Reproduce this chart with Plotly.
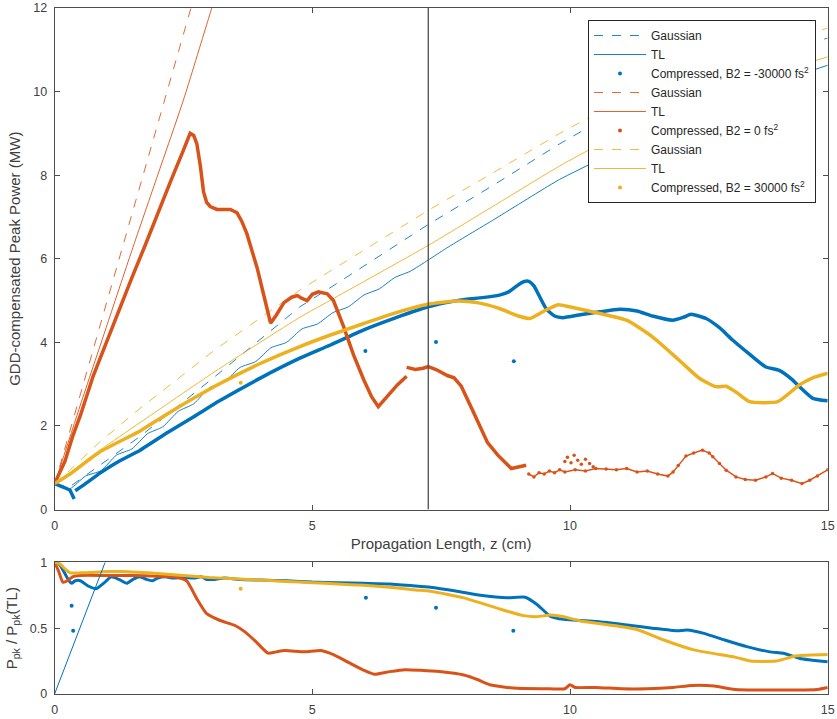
import plotly.graph_objects as go

BLUE = "#0072BD"
RED = "#D95319"
YEL = "#EDB120"

# ---------------- top panel data ----------------
# Gaussian (dashed) curves
blue_gauss_x = [0, 0.3, 0.88, 1.66, 3.11, 4.76, 5.34, 7.25, 8.5, 9.8, 10.58, 12.5, 15]
blue_gauss_y = [0.6, 0.55, 1.06, 1.75, 3.18, 4.85, 5.3, 6.82, 7.75, 8.75, 9.3, 10.4, 11.28]
red_gauss_x = [0, 0.5, 1.0, 1.5, 2.0, 2.5, 2.65, 2.75]
red_gauss_y = [0.6, 2.75, 4.9, 7.05, 9.2, 11.35, 12.0, 12.45]
yel_gauss_x = [0, 0.88, 1.66, 3.11, 4.76, 5.34, 7.25, 8.5, 9.8, 10.58, 12.5, 15]
yel_gauss_y = [0.6, 1.62, 2.42, 3.82, 5.25, 5.7, 7.16, 8.05, 9.0, 9.52, 10.6, 11.52]

# Transform-limited (thin solid) curves
blue_tl_x = [0, 0.15, 0.3, 0.6, 0.9, 1.2, 1.5, 1.8, 2.1, 2.4, 2.7, 3.0, 3.3, 3.6, 3.9, 4.2,
             4.5, 4.8, 5.1, 5.4, 5.7, 6.0, 6.3, 6.6, 6.9, 7.25, 7.6, 8.0, 8.5, 9.0, 9.5, 9.8,
             10.58, 11.5, 12.5, 13.5, 15]
blue_tl_y = [0.6, 0.55, 0.5, 0.8, 0.93, 1.3, 1.45, 1.81, 1.98, 2.35, 2.53, 2.91, 3.06, 3.4, 3.54, 3.87,
             4.0, 4.32, 4.44, 4.71, 4.85, 5.13, 5.28, 5.55, 5.7, 5.97, 6.25, 6.55, 6.92, 7.3, 7.68, 7.9,
             8.38, 8.95, 9.5, 10.0, 10.63]
red_tl_x = [0, 0.5, 1.0, 1.5, 2.0, 2.5, 2.95, 3.05, 3.15]
red_tl_y = [0.6, 2.5, 4.35, 6.2, 8.0, 9.8, 11.6, 12.0, 12.4]
yel_tl_x = [0, 0.88, 1.66, 3.11, 4.76, 5.34, 7.25, 8.5, 9.8, 10.58, 12.5, 15]
yel_tl_y = [0.6, 1.42, 2.08, 3.3, 4.6, 5.0, 6.32, 7.25, 8.22, 8.74, 9.85, 10.83]

# Compressed peak power
blue_cmp_head_x = [0, 0.1, 0.2, 0.3, 0.33, 0.36, 0.38]
blue_cmp_head_y = [0.62, 0.58, 0.52, 0.46, 0.38, 0.3, 0.25]
blue_cmp_x = [0.4, 0.6, 0.88, 1.2, 1.66, 2.2, 2.7, 3.2, 4.0, 4.76, 5.34, 6.0, 6.6, 7.25, 7.86,
              8.3, 8.63, 8.8, 9.0, 9.1, 9.2, 9.3, 9.4, 9.54, 9.7, 9.86, 10.2, 10.58, 10.96, 11.3,
              11.6, 11.99, 12.2, 12.35, 12.64, 12.9, 13.16, 13.5, 13.8, 14.06, 14.3, 14.45, 14.71, 15]
blue_cmp_y = [0.45, 0.62, 0.87, 1.12, 1.42, 1.85, 2.22, 2.6, 3.15, 3.62, 3.93, 4.3, 4.58, 4.85, 5.01,
              5.07, 5.13, 5.2, 5.38, 5.45, 5.46, 5.35, 5.12, 4.8, 4.63, 4.59, 4.66, 4.73, 4.79, 4.75,
              4.63, 4.53, 4.6, 4.67, 4.57, 4.35, 4.05, 3.7, 3.41, 3.33, 3.12, 2.94, 2.66, 2.6]
blue_out_x = [6.03, 7.4, 8.91]
blue_out_y = [3.79, 4.01, 3.55]

red_cmp_x = [0, 0.1, 0.2, 0.35, 0.5, 0.75, 1.0, 1.25, 1.5, 1.75, 2.0, 2.25, 2.5, 2.63,
             2.7, 2.76, 2.83, 2.89, 2.95, 3.02, 3.15, 3.41, 3.54, 3.63, 3.73, 3.83, 3.93, 4.06,
             4.19, 4.3, 4.45, 4.6, 4.71, 4.8, 4.9, 5.0, 5.12, 5.29, 5.41, 5.6, 5.8, 6.0, 6.15,
             6.28, 6.45, 6.65, 6.83, None,
             6.83, 7.0, 7.15, 7.25, 7.4, 7.63, 7.75, 7.89, 8.08, 8.25, 8.4, 8.6, 8.86, 9.15]
red_cmp_y = [0.62, 0.9, 1.15, 1.75, 2.25, 3.2, 4.0, 4.75, 5.55, 6.3, 7.1, 7.85, 8.6, 9.0,
             8.95, 8.75, 8.2, 7.6, 7.35, 7.25, 7.18, 7.18, 7.1, 6.9, 6.6, 6.2, 5.78, 5.12,
             4.46, 4.65, 4.95, 5.08, 5.12, 5.05, 5.0, 5.15, 5.21, 5.16, 5.0, 4.4, 3.7, 3.1, 2.7,
             2.46, 2.7, 2.98, 3.19, None,
             3.4, 3.35, 3.38, 3.42, 3.35, 3.2, 3.15, 2.95, 2.45, 2.0, 1.6, 1.3, 0.98, 1.06]
# noisy tail of the B2 = 0 compressed curve
red_tail_x = [9.2, 9.3, 9.4, 9.5, 9.6, 9.7, 9.8, 9.9, 10.1, 10.3, 10.5, 10.7, 10.9, 11.1, 11.3,
              11.5, 11.7, 11.9, 12.0, 12.1, 12.25, 12.4, 12.57, 12.7, 12.77, 12.9, 13.03, 13.22,
              13.4, 13.6, 13.8, 13.93, 14.1, 14.3, 14.5, 14.65, 14.8, 15.0]
red_tail_y = [0.85, 0.78, 0.88, 0.85, 0.92, 0.88, 0.95, 0.9, 0.95, 0.92, 0.98, 0.97, 0.95, 0.98, 0.9,
              0.92, 0.85, 0.8, 0.9, 1.05, 1.28, 1.35, 1.42, 1.35, 1.26, 1.1, 0.94, 0.78,
              0.72, 0.7, 0.78, 0.86, 0.75, 0.7, 0.62, 0.7, 0.8, 0.95]
red_scatter_x = [9.9, 9.95, 10.02, 10.08, 10.15, 10.22, 10.3, 10.38, 10.45]
red_scatter_y = [1.15, 1.25, 1.12, 1.3, 1.18, 1.08, 1.2, 1.1, 1.02]

yel_cmp_x = [0, 0.3, 0.88, 1.66, 2.2, 3.11, 4.0, 4.76, 5.34, 6.0, 6.6, 7.25, 7.8, 8.2, 8.63,
             9.0, 9.22, 9.5, 9.77, 10.1, 10.58, 11.1, 11.6, 12.12, 12.51, 12.83, 13.03, 13.22,
             13.48, 14.03, 14.45, 14.71, 15]
yel_cmp_y = [0.62, 0.85, 1.38, 1.88, 2.3, 2.95, 3.5, 3.9, 4.17, 4.45, 4.7, 4.91, 4.99, 4.95, 4.81,
             4.63, 4.57, 4.75, 4.9, 4.82, 4.69, 4.53, 4.13, 3.57, 3.14, 2.94, 2.95, 2.81,
             2.58, 2.58, 2.98, 3.15, 3.26]
yel_out_x = [3.61]
yel_out_y = [3.03]

vline_x = [7.25, 7.25]
vline_y = [0, 12]

# ---------------- bottom panel data (ratio to TL) ----------------
blue_ratio_x = [0, 0.08, 0.15, 0.22, 0.28, 0.33, 0.4, 0.5, 0.65, 0.81, 0.95, 1.1, 1.25, 1.4, 1.52,
                1.65, 1.78, 1.9, 2.0, 2.15, 2.3, 2.5, 2.7, 2.85, 2.95, 3.1, 3.3, 3.6, 4.0, 4.5,
                5.0, 5.5, 6.0, 6.5, 7.0, 7.29, 7.81, 8.26, 8.78, 9.13, 9.36, 9.62, 9.88, 10.53,
                11.18, 11.6, 12.08, 12.27, 12.6, 13.0, 13.43, 13.88, 14.14, 14.46, 15]
blue_ratio_y = [1.0, 0.99, 0.95, 0.9, 0.86, 0.84, 0.86, 0.86, 0.82, 0.80, 0.84, 0.89, 0.87, 0.84, 0.87,
                0.89, 0.87, 0.86, 0.88, 0.89, 0.88, 0.885, 0.88, 0.89, 0.87, 0.87, 0.88, 0.87, 0.865, 0.86,
                0.85, 0.845, 0.84, 0.835, 0.82, 0.81, 0.78, 0.75, 0.73, 0.735, 0.68, 0.59, 0.567, 0.55,
                0.52, 0.5, 0.48, 0.486, 0.46, 0.41, 0.36, 0.32, 0.31, 0.27, 0.245]
blue_ratio_out_x = [0.33, 0.36, 6.04, 7.4, 8.9]
blue_ratio_out_y = [0.67, 0.48, 0.73, 0.655, 0.48]

red_ratio_x = [0, 0.08, 0.16, 0.25, 0.35, 0.5, 1.0, 1.5, 2.0, 2.3, 2.56, 2.75, 2.95, 3.2, 3.5,
               3.7, 3.9, 4.14, 4.3, 4.47, 4.85, 5.17, 5.4, 5.7, 6.0, 6.2, 6.5, 6.8, 7.1, 7.47,
               7.94, 8.2, 8.46, 8.97, 9.5, 9.9, 10.0, 10.1, 10.5, 11.0, 11.5, 12.0, 12.38, 12.8,
               13.2, 13.8, 14.3, 14.8, 15]
red_ratio_y = [1.0, 0.93, 0.85, 0.86, 0.89, 0.9, 0.9, 0.9, 0.895, 0.89, 0.86, 0.73, 0.61, 0.56, 0.52,
               0.47, 0.4, 0.31, 0.32, 0.33, 0.32, 0.33, 0.3, 0.24, 0.18, 0.15, 0.17, 0.185, 0.18, 0.17,
               0.144, 0.11, 0.068, 0.043, 0.04, 0.04, 0.07, 0.05, 0.05, 0.04, 0.04, 0.05, 0.065, 0.06,
               0.035, 0.03, 0.03, 0.035, 0.05]

yel_ratio_x = [0, 0.1, 0.2, 0.3, 0.5, 0.8, 1.0, 1.3, 1.6, 2.0, 2.5, 3.0, 3.5, 4.0, 4.5, 5.0, 5.5,
               6.0, 6.5, 7.0, 7.29, 7.94, 8.6, 9.1, 9.36, 9.62, 9.88, 10.2, 10.92, 11.3, 11.82,
               12.4, 12.9, 13.2, 13.5, 14.0, 14.4, 15]
yel_ratio_y = [1.0, 0.99, 0.95, 0.92, 0.92, 0.925, 0.93, 0.93, 0.925, 0.915, 0.9, 0.885, 0.875, 0.865,
               0.855, 0.845, 0.835, 0.825, 0.81, 0.79, 0.78, 0.73, 0.65, 0.595, 0.587, 0.6, 0.587,
               0.554, 0.516, 0.49, 0.41, 0.335, 0.30, 0.28, 0.25, 0.25, 0.29, 0.30]
yel_ratio_out_x = [3.61]
yel_ratio_out_y = [0.80]

ref_line_x = [0, 0.98]
ref_line_y = [0, 1]

x_ticks = [0, 5, 10, 15]
y_ticks_top = [0, 2, 4, 6, 8, 10, 12]
y_ticks_bot = [0, 0.5, 1]
y_ticktext_bot = ["0", "0.5", "1"]

labels_b2 = ["-30000", "0", "30000"]

# ---------------- figure ----------------
fig = go.Figure()
THIN = 1.0
THICK = 3.5

groups = [
    (BLUE, blue_gauss_x, blue_gauss_y, blue_tl_x, blue_tl_y, blue_out_x, blue_out_y, labels_b2[0]),
    (RED, red_gauss_x, red_gauss_y, red_tl_x, red_tl_y, [None], [None], labels_b2[1]),
    (YEL, yel_gauss_x, yel_gauss_y, yel_tl_x, yel_tl_y, yel_out_x, yel_out_y, labels_b2[2]),
]
for col, gx, gy, tx, ty, ox, oy, b2 in groups:
    fig.add_trace(go.Scatter(x=gx, y=gy, mode="lines", name="Gaussian",
                             line=dict(color=col, width=THIN, dash="dash"), opacity=0.85,
                             xaxis="x", yaxis="y"))
    fig.add_trace(go.Scatter(x=tx, y=ty, mode="lines", name="TL",
                             line=dict(color=col, width=THIN, shape="spline", smoothing=0.6),
                             opacity=0.9, xaxis="x", yaxis="y"))
    fig.add_trace(go.Scatter(x=ox, y=oy, mode="markers",
                             name="Compressed, B2 = " + b2 + " fs<sup>2</sup>",
                             marker=dict(color=col, size=4), xaxis="x", yaxis="y"))

fig.add_trace(go.Scatter(x=blue_cmp_head_x, y=blue_cmp_head_y, mode="lines", showlegend=False,
                         line=dict(color=BLUE, width=THICK), xaxis="x", yaxis="y"))
for col, cx, cy, shp in [(BLUE, blue_cmp_x, blue_cmp_y, "spline"), (RED, red_cmp_x, red_cmp_y, "linear"),
                         (YEL, yel_cmp_x, yel_cmp_y, "spline")]:
    fig.add_trace(go.Scatter(x=cx, y=cy, mode="lines", showlegend=False,
                             line=dict(color=col, width=THICK, shape=shp, smoothing=0.5),
                             xaxis="x", yaxis="y"))

fig.add_trace(go.Scatter(x=red_tail_x, y=red_tail_y, mode="lines+markers", showlegend=False,
                         line=dict(color=RED, width=1.5), marker=dict(color=RED, size=3.5),
                         xaxis="x", yaxis="y"))
fig.add_trace(go.Scatter(x=red_scatter_x, y=red_scatter_y, mode="markers", showlegend=False,
                         marker=dict(color=RED, size=3.5), xaxis="x", yaxis="y"))
fig.add_trace(go.Scatter(x=vline_x, y=vline_y, mode="lines", showlegend=False,
                         line=dict(color="#4d4d4d", width=1.3), xaxis="x", yaxis="y"))

# bottom panel
for col, rx, ry in [(BLUE, blue_ratio_x, blue_ratio_y), (RED, red_ratio_x, red_ratio_y),
                    (YEL, yel_ratio_x, yel_ratio_y)]:
    fig.add_trace(go.Scatter(x=rx, y=ry, mode="lines", showlegend=False,
                             line=dict(color=col, width=3, shape="spline", smoothing=0.5),
                             xaxis="x2", yaxis="y2"))
fig.add_trace(go.Scatter(x=blue_ratio_out_x, y=blue_ratio_out_y, mode="markers", showlegend=False,
                         marker=dict(color=BLUE, size=4), xaxis="x2", yaxis="y2"))
fig.add_trace(go.Scatter(x=yel_ratio_out_x, y=yel_ratio_out_y, mode="markers", showlegend=False,
                         marker=dict(color=YEL, size=4), xaxis="x2", yaxis="y2"))
fig.add_trace(go.Scatter(x=ref_line_x, y=ref_line_y, mode="lines", showlegend=False,
                         line=dict(color=BLUE, width=1), xaxis="x2", yaxis="y2"))

AX = "#4d4d4d"
common = dict(showline=True, linecolor=AX, linewidth=1, mirror="ticks", ticks="inside",
              ticklen=5, tickcolor=AX, showgrid=False, zeroline=False, automargin=False,
              tickfont=dict(size=12.5, color="#404040"), ticklabelstandoff=4)

XD = [54.6 / 837, 827.7 / 837]
fig.update_layout(
    template="none",
    width=837, height=719,
    margin=dict(l=0, r=0, t=0, b=0, pad=0),
    paper_bgcolor="white", plot_bgcolor="white",
    font=dict(family="Liberation Sans, Arial, sans-serif", size=12.5, color="#404040"),
    xaxis=dict(domain=XD, range=[0, 15], tickvals=x_ticks, anchor="y",
               title=dict(text="Propagation Length, z (cm)", font=dict(size=15), standoff=6),
               **common),
    yaxis=dict(domain=[(719 - 509.5) / 719, (719 - 8) / 719], range=[0, 12],
               tickvals=y_ticks_top, anchor="x",
               title=dict(text="GDD-compensated Peak Power (MW)", font=dict(size=15), standoff=8),
               **common),
    xaxis2=dict(domain=XD, range=[0, 15], tickvals=x_ticks, anchor="y2", **common),
    yaxis2=dict(domain=[(719 - 694) / 719, (719 - 562.3) / 719], range=[0, 1],
                tickvals=y_ticks_bot, ticktext=y_ticktext_bot, anchor="x2",
                title=dict(text="P<sub>pk</sub> / P<sub>pk</sub>(TL)", font=dict(size=15), standoff=8),
                **common),
    legend=dict(x=588 / 837, y=1 - 20 / 719, xanchor="left", yanchor="top",
                bgcolor="white", bordercolor="#262626", borderwidth=1,
                font=dict(size=12, color="#262626"), itemwidth=52, tracegroupgap=0),
)

fig.write_html("out.html")
